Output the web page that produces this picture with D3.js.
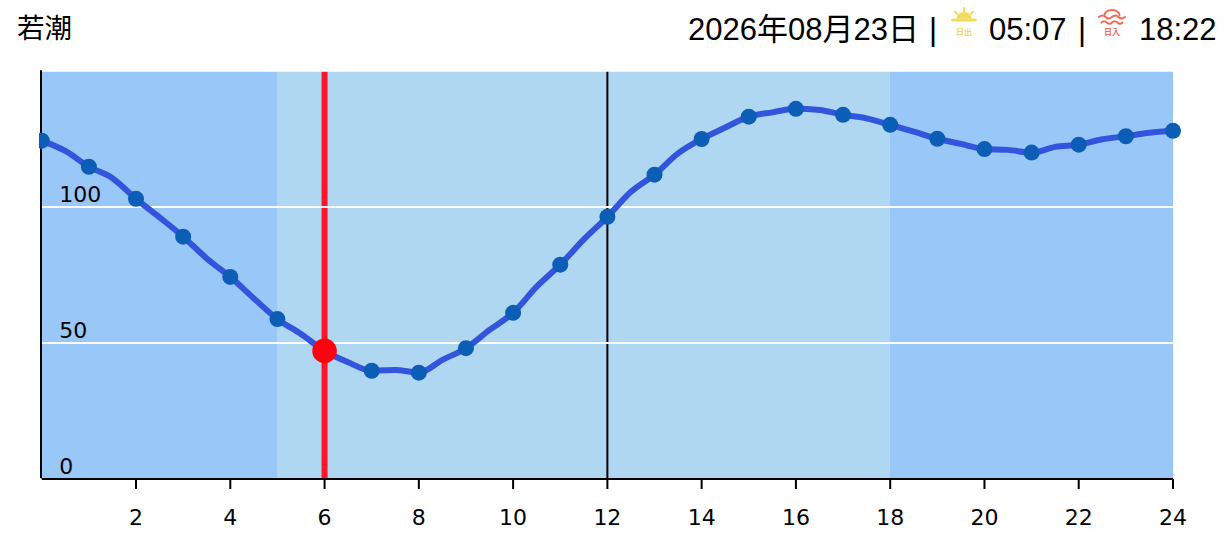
<!DOCTYPE html>
<html>
<head>
<meta charset="utf-8">
<script src="https://cdn.jsdelivr.net/npm/d3@7"></script>
<style>
  html, body { margin: 0; padding: 0; background: #fff; overflow: hidden; }
  svg { display: block; }
  .head { font-family: "Liberation Sans", "Noto Sans CJK JP", sans-serif; fill: #000; }
  .axisText text { font-family: "DejaVu Sans", sans-serif; font-size: 22px; fill: #000; }
</style>
</head>
<body>
<div id="chart"></div>
<script>
var title = "若潮";
var dateText = "2026年08月23日";
var sunriseText = "05:07";
var sunsetText = "18:22";

// half hourly tide level
var hours = [0,0.5,1,1.5,2,2.5,3,3.5,4,4.5,5,5.5,6,6.5,7,7.5,8,8.5,9,9.5,10,10.5,11,11.5,12,12.5,13,13.5,14,14.5,15,15.5,16,16.5,17,17.5,18,18.5,19,19.5,20,20.5,21,21.5,22,22.5,23,23.5,24];
var levels = [124.4,120.6,114.8,110.6,103,96.2,89.1,81.1,74.3,66.4,58.8,53.3,47.1,42.9,39.8,40.1,39.1,43.8,48.1,54.8,61.1,70.7,78.8,88.1,96.4,105.6,111.9,119.7,125,129.2,133.2,134.8,136.1,135.7,133.9,132.6,130.2,127.7,125.1,123.2,121.3,121,120,122.1,122.9,124.9,126,127.3,128];

var dotHours = [0,1,2,3,4,5,7,8,9,10,11,12,13,14,15,16,17,18,19,20,21,22,23,24];
var nowHour = 6;
var noonHour = 12;
var bandStarts = [0,5,18];
var bandEnds = [5,18,24];
var bandColors = ["#99c8f8","#afd7f1","#99c8f8"];
var xTicks = [2,4,6,8,10,12,14,16,18,20,22,24];
var yTicks = [0,50,100];
var gridLines = [50,100,150];

var svgWidth = 1231;
var svgHeight = 551;
var margin = { top: 71, right: 58, bottom: 72, left: 41.75 };
var width = svgWidth - margin.left - margin.right;
var height = svgHeight - margin.top - margin.bottom;

var svg = d3.select("#chart").append("svg")
    .attr("width", svgWidth)
    .attr("height", svgHeight);

var levelAt = d => levels[hours.indexOf(d)];

var x = d3.scaleLinear().domain([0, 24]).range([0, width]);
var y = d3.scaleLinear().domain([0, 150]).range([height, 0]);

svg.append("defs").append("clipPath").attr("id", "plotClip")
  .append("rect")
    .attr("x", -2.75).attr("y", -10)
    .attr("width", width + 20).attr("height", height + 20);

var chartGroup = svg.append("g")
    .attr("transform", `translate(${margin.left}, ${margin.top})`);

// day and night bands
chartGroup.selectAll(".band")
    .data(bandStarts)
    .enter().append("rect")
    .attr("class", "band")
    .attr("x", d => x(d))
    .attr("y", 0)
    .attr("width", (d, i) => x(bandEnds[i]) - x(d))
    .attr("height", height)
    .attr("shape-rendering", "crispEdges")
    .attr("fill", (d, i) => bandColors[i]);

// noon and current time
chartGroup.append("line")
    .attr("x1", x(noonHour)).attr("x2", x(noonHour))
    .attr("y1", 0).attr("y2", height)
    .attr("stroke", "#000").attr("stroke-width", 2);

chartGroup.append("line")
    .attr("x1", x(nowHour)).attr("x2", x(nowHour))
    .attr("y1", 0).attr("y2", height)
    .attr("stroke", "#ff1428").attr("stroke-width", 6);

chartGroup.selectAll(".grid")
    .data(gridLines)
    .enter().append("line")
    .attr("class", "grid")
    .attr("x1", 0).attr("x2", width)
    .attr("y1", d => y(d)).attr("y2", d => y(d))
    .attr("stroke", "#fff")
    .attr("stroke-opacity", d => d == 150 ? 0.75 : 0.95)
    .attr("stroke-width", 2);

// axes
chartGroup.append("g")
    .attr("class", "axisText")
    .attr("transform", `translate(0, ${height})`)
    .call(d3.axisBottom(x).tickValues(xTicks).tickSizeInner(10).tickSizeOuter(0).tickPadding(20).offset(0))
    .call(g => g.selectAll("line,path").attr("stroke", "#000").attr("stroke-width", 2));

chartGroup.append("g")
    .attr("class", "axisText")
    .call(d3.axisRight(y).tickValues(yTicks).tickSize(0).tickPadding(17.5).offset(-0.75))
    .call(g => g.select("path").attr("stroke", "#000").attr("stroke-width", 2))
    .call(g => g.selectAll("text").attr("dy", "-4px"));

var tideLine = d3.line()
    .x((d, i) => x(hours[i]))
    .y(d => y(d))
    .curve(d3.curveMonotoneX);

var marks = chartGroup.append("g").attr("clip-path", "url(#plotClip)");

marks.append("path")
    .datum(levels)
    .attr("d", tideLine)
    .attr("fill", "none")
    .attr("stroke", "#3355dd")
    .attr("stroke-width", 6)
    .attr("stroke-linejoin", "round");

marks.selectAll(".dot")
    .data(dotHours)
    .enter().append("circle")
    .attr("class", "dot")
    .attr("cx", d => x(d))
    .attr("cy", d => y(levelAt(d)))
    .attr("r", 8)
    .attr("fill", "#0c5db5");

marks.append("circle")
    .attr("cx", x(nowHour))
    .attr("cy", y(levelAt(nowHour)))
    .attr("r", 12.3)
    .attr("fill", "#ff0010");

// header
svg.append("text").attr("class", "head")
    .attr("x", 17).attr("y", 38)
    .style("font-family", "'Noto Sans CJK JP', sans-serif")
    .attr("font-size", 27.5).text(title);

function headText(px, str) {
  svg.append("text").attr("class", "head")
      .attr("x", px).attr("y", 40)
      .attr("font-size", 31).text(str);
}
headText(688, dateText);
headText(929, "|");
headText(989, sunriseText);
headText(1078, "|");
headText(1139, sunsetText);

// sunrise icon
var sun = svg.append("g").attr("transform", "translate(964, 20)")
    .attr("stroke", "#f2dc55").attr("fill", "none").attr("stroke-linecap", "round");
sun.append("path").attr("d", "M-11.5 0H11.5").attr("stroke-width", 3);
sun.append("path").attr("d", "M-7.5 -1.5A7.5 6.5 0 0 1 7.5 -1.5Z").attr("fill", "#f2dc55").attr("stroke", "none");
sun.append("path").attr("d", "M0 -12V-9M-9 -8L-6.5 -6M9 -8L6.5 -6").attr("stroke-width", 2);
sun.append("text").attr("y", 15).attr("text-anchor", "middle")
    .attr("font-size", 8).attr("font-weight", 700).attr("font-family", "'Noto Sans CJK JP'")
    .attr("fill", "#f2dc55").attr("stroke", "none").text("日出");

// sunset icon
var set = svg.append("g").attr("transform", "translate(1112, 20)")
    .attr("stroke", "#ee6c55").attr("fill", "none").attr("stroke-linecap", "round");
set.append("path").attr("d", "M-7.5 -5A7.5 5 0 0 1 7.5 -5").attr("stroke-width", 2);
set.append("path").attr("d", "M-13 -3Q-9.5 -6 -6.5 -3T0 -3T6.5 -3T13 -3").attr("stroke-width", 2);
set.append("path").attr("d", "M-10.5 2.5Q-8 0 -5.25 2.5T0 2.5T5.25 2.5T10.5 2.5").attr("stroke-width", 2);
set.append("text").attr("y", 15).attr("text-anchor", "middle")
    .attr("font-size", 8).attr("font-weight", 700).attr("font-family", "'Noto Sans CJK JP'")
    .attr("fill", "#ee6c55").attr("stroke", "none").text("日入");
</script>
</body>
</html>
